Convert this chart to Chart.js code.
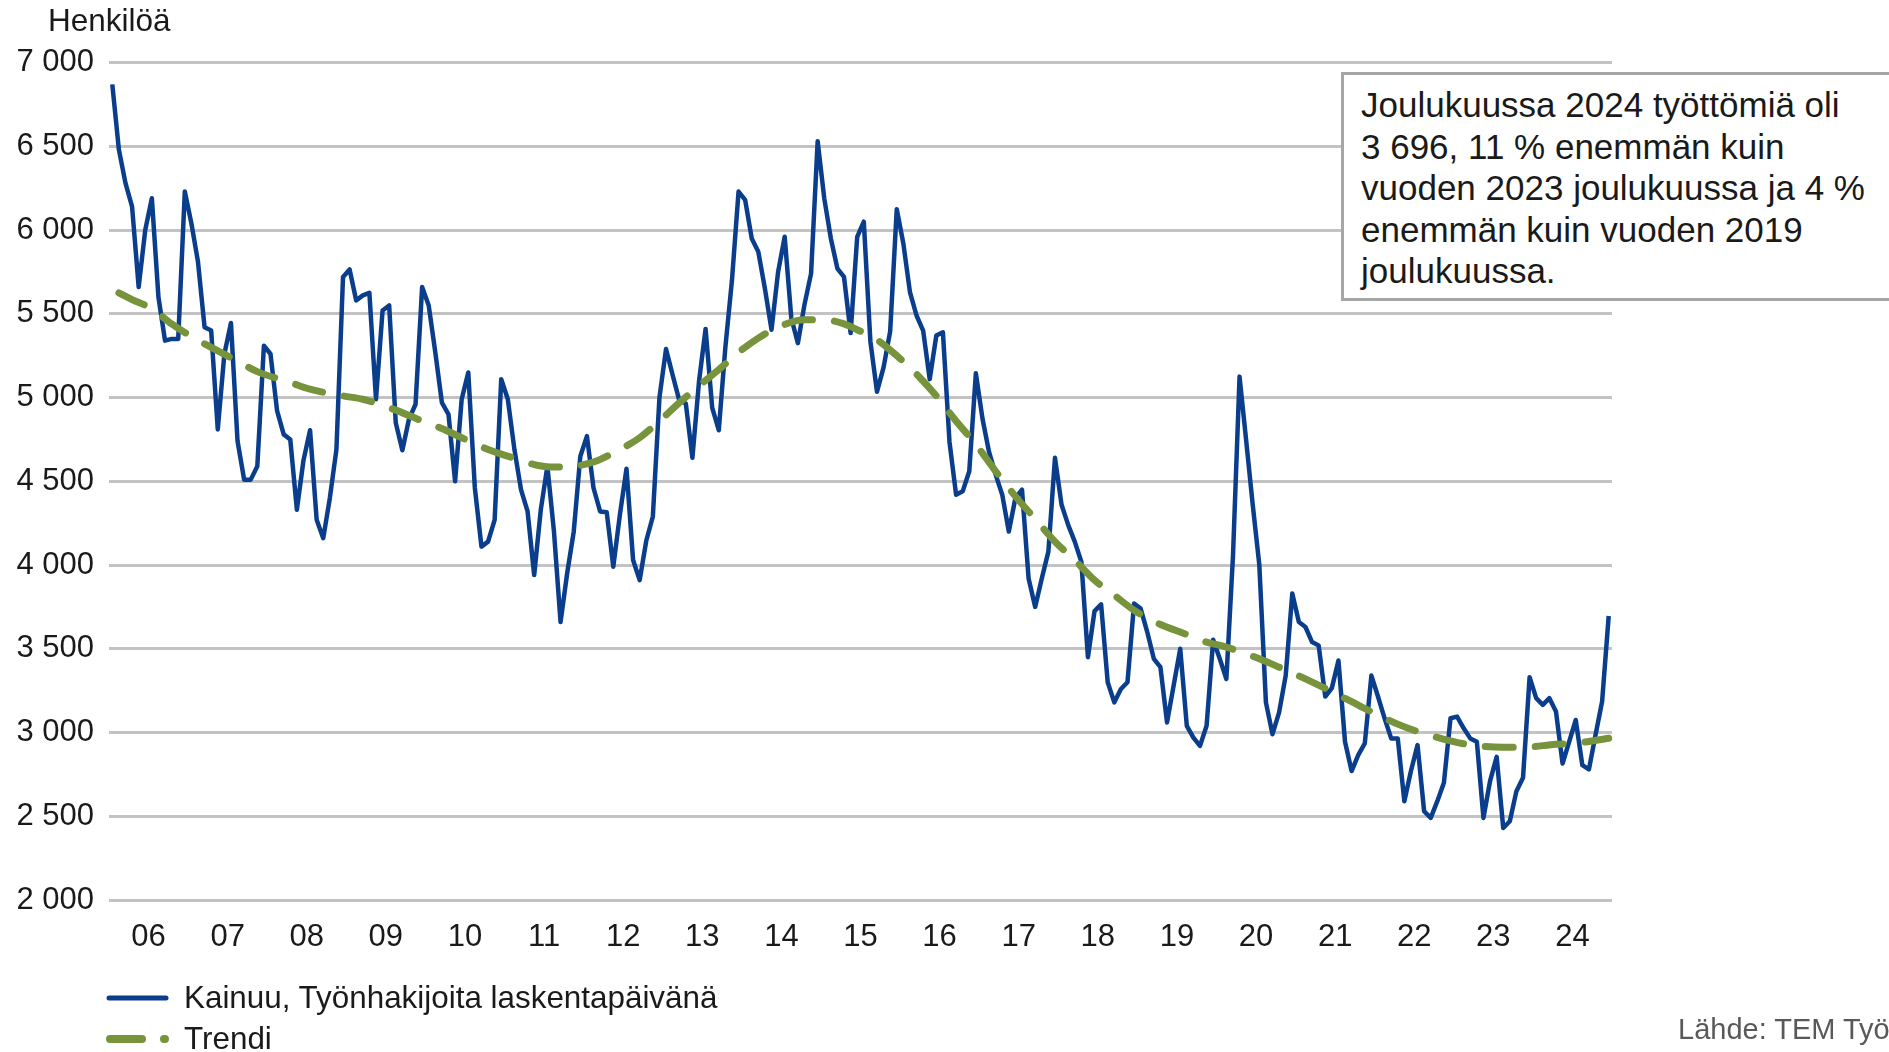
<!DOCTYPE html>
<html lang="fi">
<head>
<meta charset="utf-8">
<title>Kainuu, työnhakijat</title>
<script src="https://cdn.jsdelivr.net/npm/chart.js@4.4.1/dist/chart.umd.min.js"></script>
<style>
html,body{margin:0;padding:0;background:#fff;overflow:hidden}
body{width:1889px;height:1052px;position:relative;font-family:"Liberation Sans",Arial,sans-serif;color:#1a1a1a}
#wrap{position:absolute;left:0;top:0;width:1889px;height:1052px}
.unit{position:absolute;left:48px;top:5px;font-size:31.5px;line-height:31.5px}
.note{position:absolute;left:1341px;top:72px;width:640px;border:3px solid #a6a6a6;background:#fff;padding:9px 0 6px 17px;font-size:35px;line-height:41.6px;white-space:nowrap}
.legend{position:absolute;left:106px;top:977px;font-size:31.4px}
.legend div{display:flex;align-items:center;height:41px;white-space:nowrap}
.legend svg{margin-right:15px;flex-shrink:0}
.source{position:absolute;left:1678px;top:1013px;font-size:29px;color:#595959;white-space:nowrap}
</style>
</head>
<body>
<div id="wrap"><canvas id="chart" width="1889" height="1052"></canvas></div>
<div class="unit">Henkilöä</div>
<div class="note">Joulukuussa 2024 työttömiä oli<br>3 696, 11 % enemmän kuin<br>vuoden 2023 joulukuussa ja 4 %<br>enemmän kuin vuoden 2019<br>joulukuussa.</div>
<div class="legend">
  <div><svg width="63" height="12"><line x1="3" y1="6" x2="60" y2="6" stroke="#0a3d8c" stroke-width="5" stroke-linecap="round"/></svg>Kainuu, Työnhakijoita laskentapäivänä</div>
  <div><svg width="63" height="12"><line x1="4" y1="6" x2="59" y2="6" stroke="#77933c" stroke-width="8" stroke-linecap="round" stroke-dasharray="32 22"/></svg>Trendi</div>
</div>
<div class="source">Lähde: TEM Työnvälitystilasto</div>
<script>
// vuodet (x-akselin nimet)
const years = ["06","07","08","09","10","11","12","13","14","15","16","17","18","19","20","21","22","23","24"];

// Kainuu, työnhakijoita laskentapäivänä, kuukausittain 1/2006 - 12/2024
const seekers = [
  6870,6480,6280,6140,5660,6000,6190,5600,5340,5350,5350,6230, // 2006
  6040,5810,5420,5400,4810,5260,5445,4740,4510,4510,4590,5310, // 2007
  5260,4920,4780,4750,4330,4625,4805,4270,4160,4400,4690,5720, // 2008
  5765,5580,5610,5625,4990,5520,5550,4850,4685,4870,4960,5660, // 2009
  5550,5270,4970,4900,4500,4990,5150,4460,4110,4140,4270,5110, // 2010
  4990,4690,4450,4320,3940,4330,4590,4200,3660,3950,4200,4650, // 2011
  4770,4460,4320,4315,3990,4300,4575,4030,3910,4145,4290,5000, // 2012
  5290,5135,4985,4965,4640,5095,5410,4940,4805,5300,5700,6230, // 2013
  6180,5950,5870,5650,5405,5750,5960,5475,5325,5555,5740,6530, // 2014
  6190,5950,5770,5720,5385,5960,6050,5335,5035,5180,5395,6125, // 2015
  5920,5630,5490,5400,5110,5370,5390,4735,4420,4440,4560,5145, // 2016
  4875,4675,4540,4420,4200,4400,4450,3920,3750,3920,4080,4640, // 2017
  4360,4240,4140,4020,3450,3725,3765,3300,3180,3260,3300,3770, // 2018
  3740,3600,3440,3390,3060,3280,3500,3040,2970,2920,3040,3554, // 2019
  3440,3320,4050,5125,4745,4360,4000,3180,2990,3120,3340,3830, // 2020
  3660,3630,3540,3520,3215,3265,3430,2945,2770,2865,2935,3340, // 2021
  3215,3085,2965,2965,2590,2770,2925,2530,2490,2590,2700,3085, // 2022
  3095,3025,2965,2945,2490,2710,2855,2430,2470,2650,2730,3330, // 2023
  3205,3165,3205,3125,2815,2945,3075,2805,2780,2985,3185,3696  // 2024
];

// trendi luettu kuvasta: kuukauden indeksi (0 = 1/2006) ja arvo
const trendMonth = [1,3,6,9,12,15,19,22,27,30,35,38,43,47,50,53,57,60,64,67,70,73,76,80,83,86,89,92,95,98,101,105,108,111,113,116,119,122,125,128,131,134,137,140,143,146,149,152,155,159,162,166,169,174,177,181,184,188,191,195,198,203,206,211,214,219,222,227];
const trendValue = [5625,5585,5530,5440,5365,5300,5217,5155,5090,5050,5010,4990,4925,4860,4815,4760,4690,4650,4600,4585,4590,4615,4670,4760,4860,4968,5070,5167,5270,5355,5420,5464,5464,5440,5405,5345,5250,5140,5010,4860,4720,4560,4410,4275,4140,4030,3910,3820,3730,3645,3600,3540,3510,3440,3390,3320,3263,3184,3124,3050,3006,2950,2926,2912,2912,2930,2936,2966];

const labels = [];
years.forEach(y => { for (let m = 1; m <= 12; m++) labels.push(y + "/" + m); });
const trend = labels.map(() => null);
trendMonth.forEach((m, i) => { trend[m] = trendValue[i]; });

const fmt = v => String(v).replace(/\B(?=(\d{3})+(?!\d))/g, " ");
const FONT = "'Liberation Sans', Arial, sans-serif";

new Chart(document.getElementById("chart"), {
  type: "line",
  data: {
    labels,
    datasets: [
      {label:"Kainuu, Työnhakijoita laskentapäivänä", data:seekers, borderColor:"#0a3d8c", borderWidth:4.5,
       pointRadius:0, tension:0, borderJoinStyle:"round", order:1},
      {label:"Trendi", data:trend, borderColor:"#77933c", borderWidth:7, borderDash:[28,22], borderCapStyle:"round",
       spanGaps:true, cubicInterpolationMode:"monotone", pointRadius:0, order:0}
    ]
  },
  options: {
    responsive:false, animation:false,
    layout:{padding:{top:62.6, right:277, bottom:0, left:0}},
    plugins:{legend:{display:false}, tooltip:{enabled:false}},
    scales:{
      x:{
        offset:true,
        grid:{display:false, drawTicks:false},
        border:{display:false},
        afterFit: s => { s.height = 152; },
        ticks:{autoSkip:false, maxRotation:0, padding:19, labelOffset:-3.3, color:"#1a1a1a",
          font:{size:31, family:FONT},
          callback:(v, i) => i % 12 === 6 ? years[Math.floor(i / 12)] : ""}
      },
      y:{
        min:2000, max:7000,
        grid:{color:"#c3c3c3", lineWidth:3, drawTicks:false},
        border:{display:false},
        afterFit: s => { s.width = 109; },
        ticks:{stepSize:500, padding:15, color:"#1a1a1a", font:{size:31, family:FONT}, callback:v => fmt(v)}
      }
    }
  }
});
</script>
</body>
</html>
